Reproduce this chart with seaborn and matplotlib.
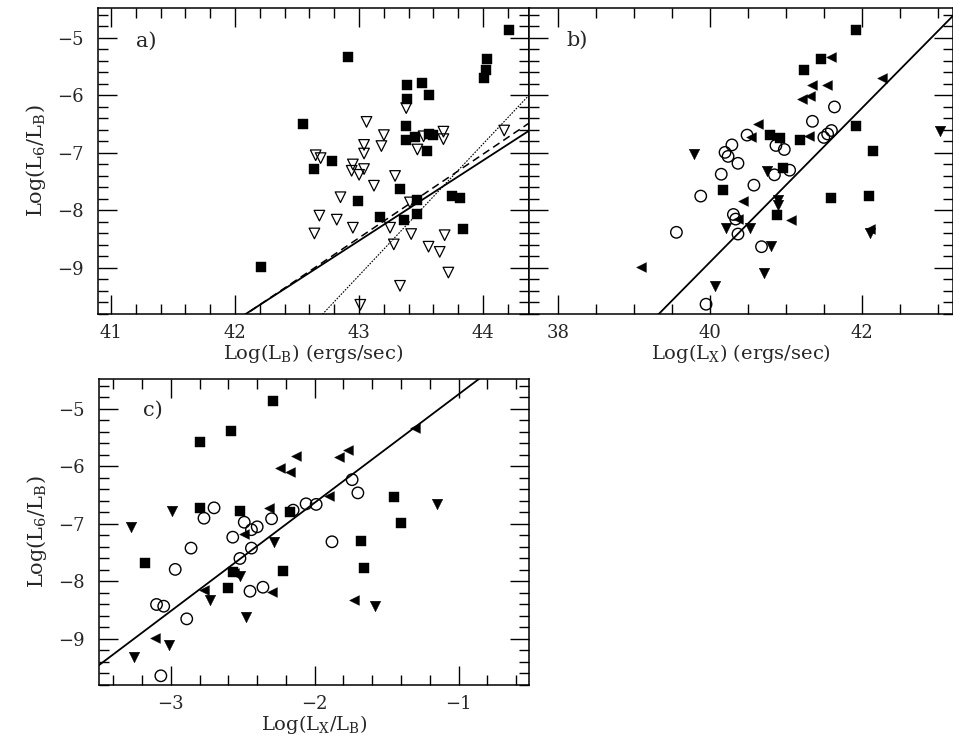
import numpy as np
import matplotlib
matplotlib.use("Agg")
import matplotlib.pyplot as plt
import seaborn as sns
from matplotlib.ticker import MultipleLocator

# ---------------- Panel a: Log(L6/LB) vs Log(LB) ----------------
a_sq_x = [42.21, 42.55, 42.64, 42.78, 42.99, 43.33, 43.17, 43.36, 43.47, 43.47, 43.75, 43.81,
          43.84, 43.55, 42.91, 43.39, 43.51, 43.56, 43.39, 43.38, 43.38, 43.45, 43.56, 43.60,
          44.03, 44.02, 44.01, 44.21]
a_sq_y = [-8.98, -6.50, -7.28, -7.14, -7.84, -7.63, -8.12, -8.16, -7.82, -8.07, -7.74, -7.78,
          -8.32, -6.96, -5.34, -5.82, -5.79, -6.00, -6.07, -6.53, -6.78, -6.73, -6.67, -6.68,
          -5.36, -5.55, -5.69, -4.86]
a_tri_x = [43.06, 43.20, 43.18, 43.04, 43.04, 43.38, 43.47, 43.52, 43.68, 43.68, 44.17,
           42.65, 42.69, 42.95, 43.04, 42.94, 43.00, 43.29, 43.12, 42.85, 42.68, 42.82,
           42.95, 42.64, 43.25, 43.42, 43.28, 43.56, 43.65, 43.69, 43.72, 43.33, 43.41, 43.01]
a_tri_y = [-6.46, -6.69, -6.88, -6.86, -7.01, -6.22, -6.94, -6.71, -6.63, -6.76, -6.61,
           -7.04, -7.09, -7.20, -7.28, -7.31, -7.38, -7.40, -7.57, -7.77, -8.09, -8.16,
           -8.30, -8.40, -8.30, -8.41, -8.59, -8.63, -8.72, -8.43, -9.08, -9.31, -7.86, -9.64]
# fitted relations (slope, intercept)
a_fit_solid = (1.395, -68.51)
a_fit_dashed = (1.455, -71.04)
a_fit_dotted = (2.287, -107.47)

# ---------------- Panel b: Log(L6/LB) vs Log(LX) ----------------
b_sq_x = [41.92, 41.46, 41.24, 40.79, 40.92, 41.18, 41.92, 42.15, 40.96, 40.17, 41.59, 42.10, 40.88]
b_sq_y = [-4.87, -5.36, -5.55, -6.69, -6.74, -6.78, -6.53, -6.96, -7.27, -7.64, -7.79, -7.74, -8.08]
b_circ_x = [41.64, 41.35, 41.50, 41.55, 41.60, 40.49, 40.29, 40.20, 40.24, 40.37, 40.87, 40.98,
            41.05, 40.85, 40.15, 40.58, 39.88, 40.31, 40.34, 40.37, 39.56, 40.68, 39.95]
b_circ_y = [-6.20, -6.45, -6.73, -6.67, -6.61, -6.69, -6.86, -6.99, -7.06, -7.18, -6.87, -6.94,
            -7.30, -7.38, -7.37, -7.56, -7.75, -8.07, -8.15, -8.41, -8.38, -8.63, -9.63]
b_left_x = [41.60, 41.35, 41.54, 41.21, 41.32, 40.64, 41.30, 40.54, 40.44, 40.37, 41.07, 39.10,
            42.27, 42.11]
b_left_y = [-5.33, -5.81, -5.82, -6.07, -6.01, -6.49, -6.71, -6.72, -7.84, -8.14, -8.17, -8.98,
            -5.69, -8.32]
b_down_x = [39.79, 40.75, 40.90, 40.90, 40.21, 40.53, 40.80, 40.71, 40.07, 43.03, 42.11]
b_down_y = [-7.01, -7.31, -7.82, -7.90, -8.31, -8.31, -8.62, -9.08, -9.31, -6.62, -8.40]
b_fit = (1.339, -62.46)

# ---------------- Panel c: Log(L6/LB) vs Log(LX/LB) ----------------
c_sq_x = [-2.29, -2.58, -2.80, -2.80, -2.52, -2.17, -3.18, -2.57, -2.60, -2.22, -1.68, -1.66,
          -1.45, -1.40]
c_sq_y = [-4.87, -5.38, -5.57, -6.72, -6.77, -6.80, -7.68, -7.84, -8.11, -7.81, -7.30, -7.76,
          -6.54, -6.98]
c_circ_x = [-1.74, -1.70, -2.06, -1.99, -2.15, -2.30, -2.70, -2.77, -2.49, -2.40, -2.44, -2.57,
            -2.44, -2.52, -2.86, -2.97, -1.88, -2.36, -2.45, -3.10, -3.05, -2.89, -3.07]
c_circ_y = [-6.23, -6.46, -6.65, -6.66, -6.76, -6.91, -6.72, -6.90, -6.97, -7.05, -7.10, -7.23,
            -7.42, -7.60, -7.42, -7.79, -7.31, -8.10, -8.17, -8.40, -8.43, -8.65, -9.64]
c_left_x = [-1.30, -1.77, -1.83, -2.13, -2.24, -2.17, -1.90, -2.32, -2.49, -2.56, -2.77, -2.30,
            -1.73, -3.11]
c_left_y = [-5.34, -5.71, -5.84, -5.82, -6.02, -6.10, -6.52, -6.72, -7.18, -7.86, -8.15, -8.19,
            -8.33, -8.98]
c_down_x = [-2.99, -3.28, -2.28, -2.52, -2.73, -2.48, -3.01, -3.26, -1.15, -1.58]
c_down_y = [-6.77, -7.05, -7.31, -7.91, -8.32, -8.61, -9.10, -9.32, -6.65, -8.43]
c_fit = (1.883, -2.864)

# ---------------- axis settings ----------------
ylim = (-9.8, -4.48)
a_xlim = (40.895, 44.37)
b_xlim = (37.62, 43.20)
c_xlim = (-3.50, -0.51)

ylab = r"Log(L$_{\rm 6}$/L$_{\rm B}$)"

sns.set_style("ticks")
plt.rcParams["font.family"] = ["DejaVu Serif"]
plt.rcParams["mathtext.fontset"] = "dejavuserif"
plt.rcParams["axes.linewidth"] = 1.1

fig = plt.figure(figsize=(9.54, 7.37), dpi=100)
W, H = 954.0, 737.0


def mkax(l, t, r, b):
    return fig.add_axes([l / W, 1 - b / H, (r - l) / W, (b - t) / H])


axa = mkax(98, 8, 529, 314)
axb = mkax(529, 8, 953, 314)
axc = mkax(99, 379, 529, 685)

SQ, CI, TRI, LT, DT = 42, 68, 58, 50, 58


def pts(ax, x, y, marker, s, filled=True, lw=1.0):
    if filled:
        sns.scatterplot(x=x, y=y, marker=marker, s=s, color="black", edgecolor="black",
                        linewidth=0.3, ax=ax, legend=False, zorder=3)
    else:
        sns.scatterplot(x=x, y=y, marker=marker, s=s, facecolor="none", edgecolor="black",
                        linewidth=lw, ax=ax, legend=False, zorder=3)


def fitline(ax, fit, xlim, **kw):
    xs = np.linspace(xlim[0], xlim[1], 200)
    ax.plot(xs, fit[0] * xs + fit[1], color="black", **kw)


# panel a
pts(axa, a_sq_x, a_sq_y, "s", SQ)
pts(axa, a_tri_x, a_tri_y, "v", TRI, filled=False, lw=0.9)
fitline(axa, a_fit_solid, a_xlim, lw=1.3)
fitline(axa, a_fit_dashed, a_xlim, lw=1.1, ls=(0, (5, 3)))
fitline(axa, a_fit_dotted, a_xlim, lw=0.8, ls=(0, (1.5, 1.2)))

# panel b
pts(axb, b_sq_x, b_sq_y, "s", SQ)
pts(axb, b_circ_x, b_circ_y, "o", CI, filled=False, lw=1.0)
pts(axb, b_left_x, b_left_y, "<", LT)
pts(axb, b_down_x, b_down_y, "v", DT)
fitline(axb, b_fit, b_xlim, lw=1.3)

# panel c
pts(axc, c_sq_x, c_sq_y, "s", SQ)
pts(axc, c_circ_x, c_circ_y, "o", CI, filled=False, lw=1.0)
pts(axc, c_left_x, c_left_y, "<", LT)
pts(axc, c_down_x, c_down_y, "v", DT)
fitline(axc, c_fit, c_xlim, lw=1.3)

tick_fs = 13
for ax, xl, xmaj, xmin in [(axa, a_xlim, 1, 0.2), (axb, b_xlim, 2, 0.5), (axc, c_xlim, 1, 0.2)]:
    ax.set_xlim(*xl)
    ax.set_ylim(*ylim)
    ax.xaxis.set_major_locator(MultipleLocator(xmaj))
    ax.xaxis.set_minor_locator(MultipleLocator(xmin))
    ax.yaxis.set_major_locator(MultipleLocator(1))
    ax.yaxis.set_minor_locator(MultipleLocator(0.2))
    ax.tick_params(which="both", direction="in", top=True, right=True, color="black")
    ax.tick_params(which="major", length=14, width=1.0, labelsize=tick_fs, pad=7)
    ax.tick_params(which="minor", length=7, width=1.0)
    ax.set_xlabel("")
    ax.set_ylabel("")
    for sp in ax.spines.values():
        sp.set_color("black")
        sp.set_linewidth(1.1)

axb.tick_params(axis="y", labelleft=False)
axa.tick_params(axis="y", pad=10)
axc.tick_params(axis="y", pad=10)

axa.set_xlabel(r"Log(L$_{\rm B}$) (ergs/sec)", fontsize=14, labelpad=0)
axb.set_xlabel(r"Log(L$_{\rm X}$) (ergs/sec)", fontsize=14, labelpad=0)
axc.set_xlabel(r"Log(L$_{\rm X}$/L$_{\rm B}$)", fontsize=14, labelpad=0)
axa.set_ylabel(ylab, fontsize=15, labelpad=7)
axc.set_ylabel(ylab, fontsize=15, labelpad=7)

axa.text(0.088, 0.89, "a)", transform=axa.transAxes, fontsize=15, va="center", ha="left")
axb.text(0.089, 0.895, "b)", transform=axb.transAxes, fontsize=15, va="center", ha="left")
axc.text(0.102, 0.899, "c)", transform=axc.transAxes, fontsize=15, va="center", ha="left")

fig.savefig("out.png", dpi=100)
